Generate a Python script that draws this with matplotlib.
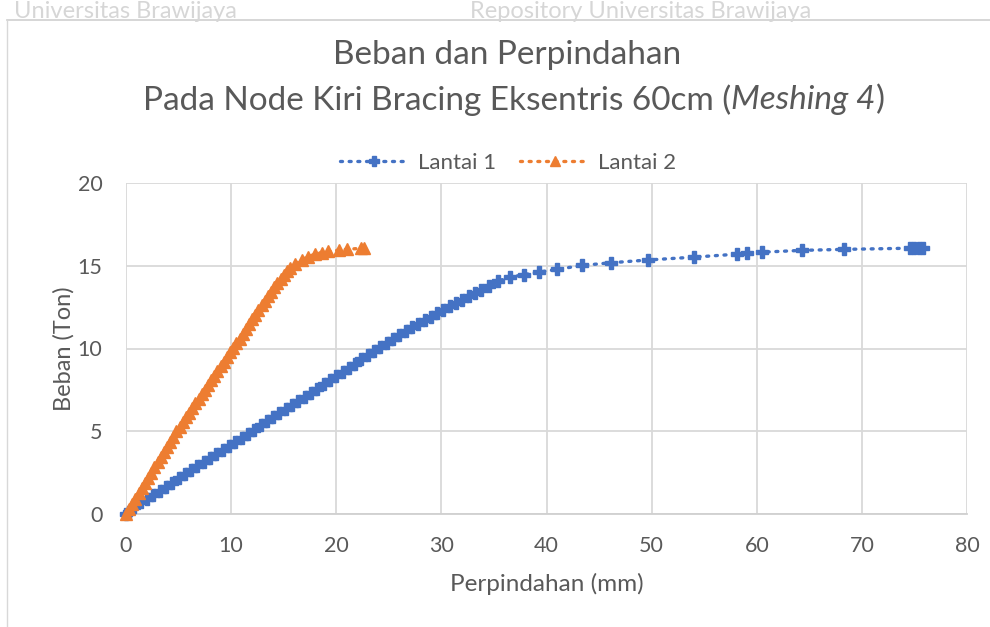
import matplotlib
matplotlib.use("Agg")
import matplotlib.pyplot as plt
from matplotlib.lines import Line2D

plt.rcParams['font.family'] = ['Lato', 'DejaVu Sans']

# ---- data ----
lantai1_x = [0, 0.3, 0.8, 1.4, 2.0, 2.6, 3.2, 3.8, 4.4, 5.0, 5.6, 6.2, 6.8, 7.4, 8.0, 8.6, 9.2, 9.8,
             10.4, 11.0, 11.6, 12.2, 12.8, 13.4, 14.0, 14.6, 15.2, 15.8, 16.4, 17.0, 17.6, 18.2, 18.8,
             19.4, 20.0, 20.6, 21.2, 21.8, 22.4, 23.0, 23.6, 24.2, 24.8, 25.4, 26.0, 26.6, 27.2, 27.8,
             28.4, 29.0, 29.6, 30.2, 30.8, 31.4, 32.0, 32.6, 33.2, 33.8, 34.5, 35.4,
             36.5, 37.9, 39.3, 41.0, 43.4, 46.1, 49.7, 54.0, 58.1, 59.1, 60.5, 64.3, 68.3,
             74.6, 75.0, 75.4, 75.8]
lantai1_y = [0, 0.15, 0.45, 0.7, 0.92, 1.15, 1.4, 1.65, 1.9, 2.15, 2.4, 2.65, 2.9, 3.15, 3.4, 3.63, 3.87, 4.1,
             4.35, 4.6, 4.85, 5.1, 5.35, 5.6, 5.85, 6.1, 6.33, 6.58, 6.83, 7.08, 7.33, 7.58, 7.84,
             8.09, 8.34, 8.59, 8.84, 9.09, 9.34, 9.59, 9.84, 10.09, 10.33, 10.57, 10.81, 11.05, 11.28, 11.5,
             11.72, 11.93, 12.14, 12.35, 12.55, 12.75, 12.95, 13.15, 13.35, 13.55, 13.8, 14.08,
             14.3, 14.47, 14.62, 14.78, 15.02, 15.18, 15.35, 15.52, 15.7, 15.75, 15.82, 15.93, 15.99,
             16.06, 16.07, 16.07, 16.08]

lantai2_x = [0, 0.3, 0.6, 0.9, 1.2, 1.5, 1.8, 2.1, 2.4, 2.7, 3.0, 3.3, 3.6, 3.9, 4.2, 4.5, 4.8, 5.1, 5.4,
             5.7, 6.0, 6.3, 6.6, 6.9, 7.2, 7.5, 7.8, 8.1, 8.4, 8.7, 9.0, 9.3, 9.6, 9.9, 10.2, 10.5, 10.8,
             11.1, 11.4, 11.7, 12.0, 12.3, 12.6, 12.9, 13.2, 13.5, 13.8, 14.1, 14.4, 14.7, 15.0, 15.3,
             15.6, 16.1, 16.7, 17.3, 18.0, 18.6, 19.25, 20.3, 21.0, 22.4, 22.6]
lantai2_y = [0, 0.3, 0.62, 0.93, 1.25, 1.56, 1.87, 2.18, 2.5, 2.81, 3.12, 3.43, 3.74, 4.05, 4.37, 4.68, 5.0, 5.28, 5.56,
             5.84, 6.12, 6.4, 6.68, 6.96, 7.24, 7.52, 7.8, 8.08, 8.36, 8.64, 8.92, 9.2, 9.48, 9.76, 10.04, 10.32, 10.6,
             10.89, 11.18, 11.47, 11.76, 12.05, 12.34, 12.62, 12.9, 13.17, 13.44, 13.7, 13.95, 14.2, 14.44, 14.66,
             14.86, 15.12, 15.35, 15.55, 15.7, 15.8, 15.87, 15.95, 16.0, 16.05, 16.1]

series_names = ["Lantai 1", "Lantai 2"]
x_ticks = [0, 10, 20, 30, 40, 50, 60, 70, 80]
y_ticks = [0, 5, 10, 15, 20]

BLUE = "#4472C4"
ORANGE = "#ED7D31"
TXT = "#595959"
GRID = "#d9d9d9"

W, H = 990, 627
fig = plt.figure(figsize=(W / 100, H / 100), dpi=100)
fig.patch.set_facecolor("white")

# watermark and frame
fig.text(14 / W, 1 - 18 / H, "Universitas Brawijaya", fontsize=17, color="#d6d6d6",
         ha="left", va="baseline")
fig.text(470 / W, 1 - 18 / H, "Repository Universitas Brawijaya", fontsize=17, color="#d6d6d6",
         ha="left", va="baseline")
fig.add_artist(Line2D([7 / W, 1], [1 - 20 / H, 1 - 20 / H], transform=fig.transFigure,
                      color="#cfcfcf", lw=1.2))
fig.add_artist(Line2D([7 / W, 7 / W], [0, 1 - 20 / H], transform=fig.transFigure,
                      color="#d8d8d8", lw=1.0))

ax = fig.add_axes([126 / W, 1 - 514 / H, (967 - 126) / W, (514 - 183) / H])
ax.set_xlim(0, 80)
ax.set_ylim(0, 20)
ax.set_xticks(x_ticks)
ax.set_yticks(y_ticks)
ax.set_xticklabels([str(v) for v in x_ticks])
ax.set_yticklabels([str(v) for v in y_ticks])
ax.grid(True, color=GRID, lw=1.3)
ax.set_axisbelow(True)
for s in ["top", "right", "left"]:
    ax.spines[s].set_visible(False)
ax.spines["bottom"].set_color("#d0d0d0")
ax.spines["bottom"].set_linewidth(1.3)
ax.tick_params(length=0, labelsize=15.5, colors=TXT)
ax.tick_params(axis="x", pad=16)
ax.tick_params(axis="y", pad=17)

l1, = ax.plot(lantai1_x, lantai1_y, color=BLUE, ls=(0, (0.6, 2.0)), lw=2.4,
              dash_capstyle="round", marker="P", ms=8.5, mec=BLUE, mfc=BLUE, clip_on=False,
              label=series_names[0], zorder=3)
l2, = ax.plot(lantai2_x, lantai2_y, color=ORANGE, ls=(0, (0.6, 2.0)), lw=2.4,
              dash_capstyle="round", marker="^", ms=8.5, mec=ORANGE, mfc=ORANGE, clip_on=False,
              label=series_names[1], zorder=4)

ax.set_xlabel("Perpindahan (mm)", fontsize=17.5, color=TXT, labelpad=12)
ax.set_ylabel("Beban (Ton)", fontsize=17, color=TXT, labelpad=2)

leg = fig.legend(handles=[l1, l2], loc="center", bbox_to_anchor=(508 / W, 1 - 163 / H),
                 ncol=2, frameon=False, fontsize=16, labelcolor=TXT, handlelength=3.1,
                 columnspacing=1.1, handletextpad=0.4, markerscale=0.9)

# title (two lines, partly italic)
TS = 24
fig.text(507 / W, 1 - 55 / H, "Beban dan Perpindahan", fontsize=TS, color=TXT,
         ha="center", va="center")
renderer = fig.canvas.get_renderer()
parts = [("Pada Node Kiri Bracing Eksentris 60cm (", "normal"), ("Meshing 4", "italic"), (")", "normal")]
tmp = []
total = 0
for s, st in parts:
    t = fig.text(0, 0, s, fontsize=TS, style=st)
    w = t.get_window_extent(renderer).width
    tmp.append((s, st, w))
    total += w
    t.remove()
x0 = 514 - total / 2
for s, st, w in tmp:
    fig.text(x0 / W, 1 - 100 / H, s, fontsize=TS, style=st, color=TXT, ha="left", va="center")
    x0 += w

fig.savefig("out.png", dpi=100, facecolor="white")
